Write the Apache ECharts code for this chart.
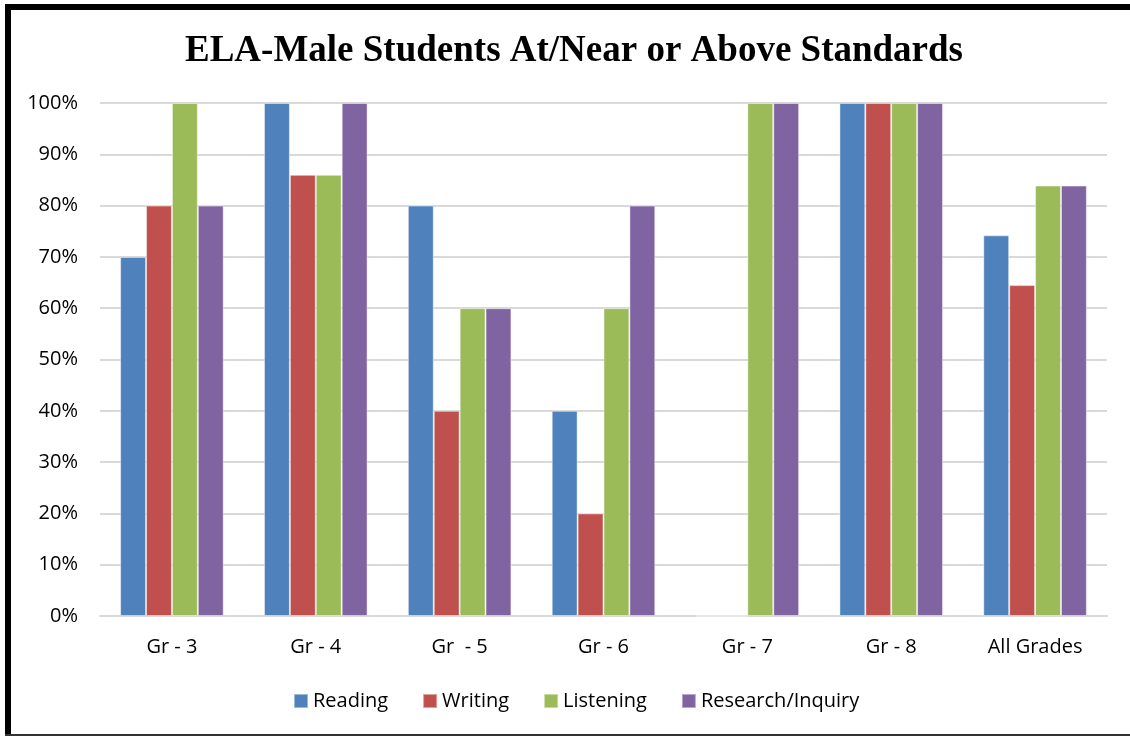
<!DOCTYPE html>
<html>
<head>
<meta charset="utf-8">
<script src="https://cdn.jsdelivr.net/npm/echarts@6/dist/echarts.min.js"></script>
<style>
html,body{margin:0;padding:0;background:#fff;}
#chart{width:1130px;height:738px;}
</style>
</head>
<body>
<div id="chart"></div>
<script>
const categories = ['Gr - 3', 'Gr - 4', 'Gr  - 5', 'Gr - 6', 'Gr - 7', 'Gr - 8', 'All Grades'];
const reading = [70, 100, 80, 40, 0, 100, 74.2];
const writing = [80, 86, 40, 20, 0, 100, 64.5];
const listening = [100, 86, 60, 60, 100, 100, 83.9];
const research = [80, 100, 60, 80, 100, 100, 83.9];
const yTicks = [0, 10, 20, 30, 40, 50, 60, 70, 80, 90, 100];
const seriesNames = ['Reading', 'Writing', 'Listening', 'Research/Inquiry'];
const colors = ['#4F81BD', '#C0504D', '#9BBB59', '#8064A2'];

const chart = echarts.init(document.getElementById('chart'), null, {renderer: 'canvas'});
const font = '"Open Sans", "Noto Sans", sans-serif';
const allSeries = [reading, writing, listening, research].map((d, i) => ({
  name: seriesNames[i],
  type: 'bar',
  data: d,
  barGap: '0%',
  barCategoryGap: '28%',
  itemStyle: {color: colors[i], borderColor: 'rgba(255,255,255,0.45)', borderWidth: 1},
  emphasis: {disabled: true}
}));

chart.setOption({
  animation: false,
  title: {
    text: 'ELA-Male Students At/Near or Above Standards',
    left: 569, top: 28, textAlign: 'center',
    textStyle: {fontFamily: '"Liberation Serif", "Times New Roman", serif', fontWeight: 'bold', fontSize: 37, color: '#000'}
  },
  grid: {left: 100, right: 23, top: 103, bottom: 122, containLabel: false},
  legend: {
    data: seriesNames,
    bottom: 22, left: 288,
    itemWidth: 14, itemHeight: 14, itemGap: 34,
    icon: 'rect',
    textStyle: {fontFamily: font, fontSize: 20, color: '#000'},
  },
  xAxis: {
    type: 'category',
    data: categories,
    axisLine: {show: true, lineStyle: {color: '#d9d9d9', width: 2}},
    axisTick: {show: false},
    axisLabel: {fontFamily: font, fontSize: 20, color: '#000', margin: 21}
  },
  yAxis: {
    type: 'value',
    min: yTicks[0], max: yTicks[yTicks.length - 1], interval: 10,
    axisLine: {show: false},
    axisTick: {show: false},
    splitLine: {lineStyle: {color: '#d9d9d9', width: 2}},
    axisLabel: {fontFamily: font, fontSize: 20, color: '#000', margin: 22, formatter: '{value}%'}
  },
  graphic: [
    {type: 'rect', shape: {x: 5, y: 4, width: 1125, height: 6}, style: {fill: '#000'}, z: 100},
    {type: 'rect', shape: {x: 5, y: 4, width: 6, height: 732}, style: {fill: '#000'}, z: 100},
    {type: 'rect', shape: {x: 5, y: 734, width: 1125, height: 2}, style: {fill: '#333'}, z: 100}
  ],
  series: allSeries
});
</script>
</body>
</html>
